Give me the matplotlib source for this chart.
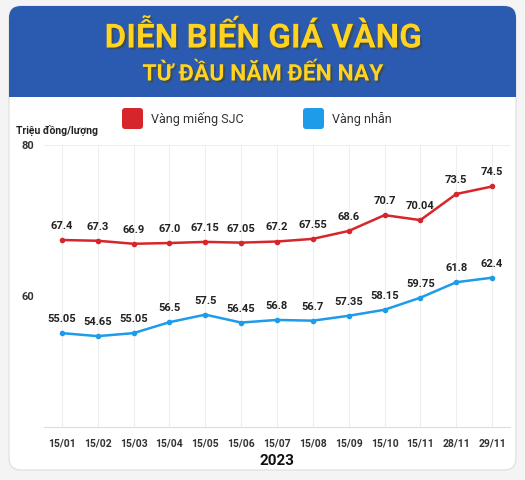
import matplotlib.pyplot as plt
from matplotlib.patches import FancyBboxPatch, Rectangle
import matplotlib.patheffects as pe
import numpy as np

# DATA
dates = ["15/01", "15/02", "15/03", "15/04", "15/05", "15/06", "15/07",
         "15/08", "15/09", "15/10", "15/11", "28/11", "29/11"]
sjc = [67.4, 67.3, 66.9, 67.0, 67.15, 67.05, 67.2, 67.55, 68.6, 70.7, 70.04, 73.5, 74.5]
nhan = [55.05, 54.65, 55.05, 56.5, 57.5, 56.45, 56.8, 56.7, 57.35, 58.15, 59.75, 61.8, 62.4]
sjc_lbl = ["67.4", "67.3", "66.9", "67.0", "67.15", "67.05", "67.2", "67.55", "68.6", "70.7", "70.04", "73.5", "74.5"]
nhan_lbl = ["55.05", "54.65", "55.05", "56.5", "57.5", "56.45", "56.8", "56.7", "57.35", "58.15", "59.75", "61.8", "62.4"]

plt.rcParams['font.family'] = ['Roboto', 'DejaVu Sans']
red = "#d7262b"
blue = "#1e9be9"

fig = plt.figure(figsize=(5.25, 4.8), dpi=100)
fig.patch.set_facecolor("#f4f4f4")

# card + header
bg = fig.add_axes([0, 0, 1, 1])
bg.set_xlim(0, 525)
bg.set_ylim(480, 0)
bg.axis("off")
bg.add_patch(FancyBboxPatch((9, 6), 507, 464, boxstyle="round,pad=0,rounding_size=12",
                            facecolor="white", edgecolor="#dddddd", lw=0.8))
bg.add_patch(FancyBboxPatch((9, 6), 507, 91, boxstyle="round,pad=0,rounding_size=12",
                            facecolor="#2a5bb0", edgecolor="none"))
bg.add_patch(Rectangle((9, 70), 507, 27, facecolor="#2a5bb0", edgecolor="none"))
shadow = [pe.withSimplePatchShadow(offset=(1.5, -1.5), alpha=0.5)]
bg.text(263, 38, "DIỄN BIẾN GIÁ VÀNG", color="#ffd31f", fontsize=24, fontweight="bold",
        ha="center", va="center", path_effects=shadow)
bg.text(263, 74, "TỪ ĐẦU NĂM ĐẾN NAY", color="#ffd31f", fontsize=16.5, fontweight="bold",
        ha="center", va="center", path_effects=shadow)

# legend
bg.add_patch(FancyBboxPatch((122, 108), 21, 21, boxstyle="round,pad=0,rounding_size=3",
                            facecolor=red, edgecolor="none"))
bg.text(151, 119, "Vàng miếng SJC", fontsize=9, color="#333333", va="center")
bg.add_patch(FancyBboxPatch((303, 108), 21, 21, boxstyle="round,pad=0,rounding_size=3",
                            facecolor=blue, edgecolor="none"))
bg.text(332, 119, "Vàng nhẫn", fontsize=9, color="#333333", va="center")
bg.text(16, 130, "Triệu đồng/lượng", fontsize=7.5, fontweight="bold", color="#222222", va="center")

# chart
ax = fig.add_axes([44/525, 1-427/480, 466/525, 282/480])
x = np.arange(len(dates))
ax.plot(x, sjc, color=red, lw=1.8, marker="o", ms=3, zorder=3)
ax.plot(x, nhan, color=blue, lw=1.8, marker="o", ms=3, zorder=3)
for i in x:
    ax.text(i, sjc[i] + 1.2, sjc_lbl[i], ha="center", va="bottom", fontsize=8,
            fontweight="bold", color="#222222")
    ax.text(i, nhan[i] + 1.2, nhan_lbl[i], ha="center", va="bottom", fontsize=8,
            fontweight="bold", color="#222222")

ax.set_xlim(-0.5, 12.5)
ax.set_ylim(42.6, 80)
ax.set_yticks([60, 80])
ax.set_xticks(x)
ax.set_xticklabels(dates, fontsize=7.5, fontweight="bold", color="#333333")
ax.tick_params(axis="y", labelsize=8, colors="#333333", length=0, pad=7)
ax.tick_params(axis="x", length=0, pad=8)
for lb in ax.get_yticklabels():
    lb.set_fontweight("bold")
ax.grid(axis="x", color="#eeeeee", lw=0.8)
ax.axhline(80, color="#eeeeee", lw=0.8)
for s in ["top", "right", "left"]:
    ax.spines[s].set_visible(False)
ax.spines["bottom"].set_color("#dddddd")
ax.set_facecolor("none")
ax.set_xlabel("2023", fontsize=11, fontweight="bold", color="#111111", labelpad=4)

fig.savefig("out.png", dpi=100)
